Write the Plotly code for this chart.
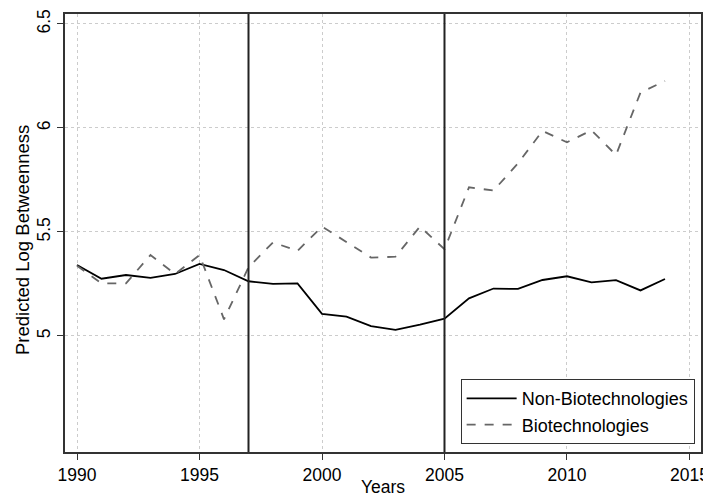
import plotly.graph_objects as go

years = list(range(1990, 2015))
non_biotech = [5.341, 5.275, 5.293, 5.279, 5.298, 5.346, 5.317, 5.263, 5.250, 5.253,
               5.106, 5.093, 5.047, 5.029, 5.054, 5.083, 5.181, 5.228, 5.226, 5.269,
               5.287, 5.258, 5.268, 5.219, 5.274]
biotech = [5.338, 5.253, 5.253, 5.389, 5.298, 5.389, 5.080, 5.330, 5.450, 5.409,
           5.526, 5.452, 5.377, 5.381, 5.526, 5.417, 5.715, 5.699, 5.830, 5.986,
           5.931, 5.989, 5.870, 6.170, 6.226]
x_ticks = [1990, 1995, 2000, 2005, 2010, 2015]
y_ticks = [5, 5.5, 6, 6.5]
period_breaks = [1997, 2005]

FONT = "Liberation Sans, Arial, sans-serif"

fig = go.Figure()
fig.add_trace(go.Scatter(x=years, y=non_biotech, mode="lines", name="Non-Biotechnologies",
                         line=dict(color="black", width=1.8)))
fig.add_trace(go.Scatter(x=years, y=biotech, mode="lines", name="Biotechnologies",
                         line=dict(color="#666666", width=1.8, dash="dash")))

for yr in period_breaks:
    fig.add_shape(type="line", xref="x", yref="paper", x0=yr, x1=yr, y0=0, y1=1,
                  line=dict(color="#222222", width=2))

# axis titles as annotations for exact placement
fig.add_annotation(text="Years", xref="paper", yref="paper", x=0.5, y=-0.0799,
                   xanchor="center", yanchor="middle", showarrow=False,
                   font=dict(size=17.5, family=FONT, color="black"))
fig.add_annotation(text="Predicted Log Betweenness", xref="paper", yref="paper",
                   x=-0.0676, y=0.484, xanchor="center", yanchor="middle",
                   textangle=-90, showarrow=False,
                   font=dict(size=18.5, family=FONT, color="black"))

fig.update_layout(
    width=703, height=490,
    margin=dict(l=57, r=10, t=6, b=46),
    paper_bgcolor="white", plot_bgcolor="white",
    font=dict(family=FONT, size=17.5, color="black"),
    showlegend=True,
    legend=dict(x=0.99, y=0.018, xanchor="right", yanchor="bottom",
                bordercolor="#333333", borderwidth=1, bgcolor="white",
                itemwidth=50,
                font=dict(size=18, family=FONT), tracegroupgap=0),
    xaxis=dict(range=[1989.51, 2015.47], tickvals=x_ticks, ticks="outside", ticklen=6,
               tickcolor="#333333", showgrid=True, gridcolor="#cccccc", griddash="dot",
               gridwidth=1, showline=True, linecolor="#333333", linewidth=1.5, mirror=True,
               zeroline=False, automargin=False, tickfont=dict(size=17.5)),
    yaxis=dict(range=[4.442, 6.548], tickvals=y_ticks, ticktext=["5", "5.5", "6", "6.5"],
               ticks="outside", ticklen=6, tickcolor="#333333", tickangle=-90,
               showgrid=True, gridcolor="#cccccc", griddash="dot", gridwidth=1,
               showline=True, linecolor="#333333", linewidth=1.5, mirror=True,
               zeroline=False, automargin=False, tickfont=dict(size=17.5)),
)

fig.write_html("out.html")
